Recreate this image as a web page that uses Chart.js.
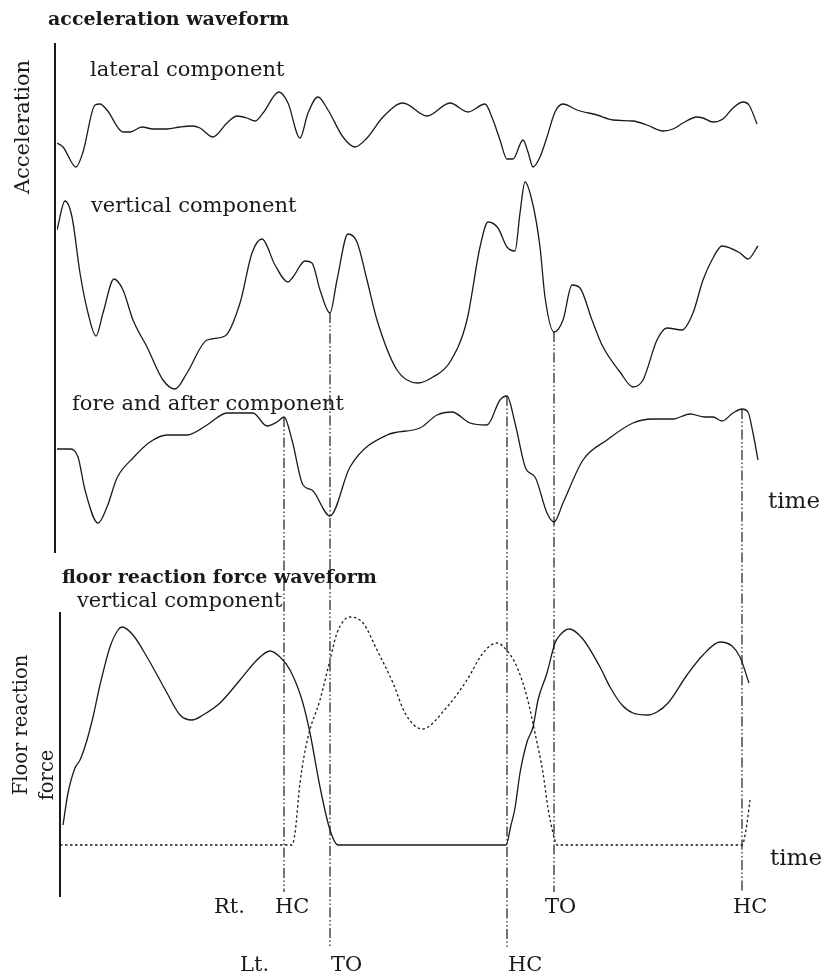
<!DOCTYPE html>
<html>
<head>
<meta charset="utf-8">
<title>acceleration / floor reaction force waveform</title>
<script src="https://cdn.jsdelivr.net/npm/chart.js@4"></script>
<style>
  html, body { margin: 0; padding: 0; background: #fff; }
  #wrap { position: relative; width: 825px; height: 977px; }
</style>
</head>
<body>
<div id="wrap"><canvas id="gait"></canvas></div>
<script>
// waveforms: [time, amplitude] (arbitrary units, up = positive)
const lateralAcc = [[0,-15],[6,-19],[19,-39],[26,-24],[38,23],[43,24],[50,18],[66,-4],[73,-4],[85,1],[96,-1],[110,-1],[123,1],[135,2],[143,0],[156,-9],[170,5],[180,12],[190,10],[198,7],[206,15],[222,36],[231,25],[243,-10],[251,15],[261,31],[271,18],[286,-9],[298,-19],[310,-10],[326,11],[346,25],[370,12],[393,25],[411,16],[428,24],[436,8],[443,-12],[450,-31],[456,-31],[466,-12],[471,-24],[476,-39],[483,-29],[490,-9],[498,16],[506,24],[520,18],[540,13],[556,8],[576,7],[590,3],[606,-3],[616,-1],[626,5],[640,11],[646,10],[656,6],[666,9],[676,20],[686,26],[692,23],[700,4]];
const verticalAcc = [[0,70],[8,99],[15,83],[23,27],[31,-13],[39,-36],[46,-13],[57,21],[66,10],[76,-20],[90,-47],[106,-80],[118,-89],[130,-73],[150,-40],[168,-36],[183,-3],[195,47],[205,61],[218,35],[231,18],[236,23],[248,39],[255,37],[263,10],[273,-13],[280,20],[291,66],[300,58],[310,20],[320,-20],[340,-70],[361,-83],[376,-77],[393,-62],[410,-20],[423,53],[431,78],[441,72],[450,53],[458,49],[463,87],[468,118],[476,95],[483,53],[488,3],[497,-32],[506,-20],[515,15],[523,12],[535,-20],[545,-45],[563,-72],[576,-87],[586,-80],[600,-40],[610,-28],[625,-30],[636,-13],[646,20],[656,42],[665,54],[683,47],[691,41],[701,54]];
const foreAftAcc = [[0,-14],[13,-14],[21,-22],[28,-55],[41,-88],[50,-72],[60,-43],[76,-23],[93,-7],[110,0],[130,0],[150,10],[170,22],[196,22],[210,9],[220,13],[227,18],[235,-5],[246,-50],[255,-55],[273,-81],[293,-32],[330,0],[363,7],[380,20],[395,23],[413,12],[430,10],[443,35],[450,39],[458,12],[469,-34],[478,-42],[490,-78],[497,-87],[506,-68],[526,-25],[550,-5],[576,12],[596,16],[616,16],[633,21],[648,18],[656,18],[665,14],[676,22],[685,26],[691,23],[696,2],[701,-25]];
const forceRight = [[6,20],[11,52],[18,77],[23,85],[30,105],[36,128],[43,160],[53,198],[61,215],[65,218],[76,210],[90,188],[110,152],[123,130],[135,125],[146,130],[163,142],[183,165],[200,185],[213,194],[223,188],[233,175],[245,145],[253,112],[263,58],[273,15],[281,0],[449,0],[454,20],[458,37],[463,72],[470,103],[476,118],[481,145],[490,172],[498,202],[503,210],[512,216],[525,207],[543,178],[553,158],[565,140],[576,132],[591,130],[600,133],[611,142],[630,170],[646,190],[663,203],[675,199],[683,188],[692,162]];
const forceLeft = [[3,0],[227,0],[235,0],[238,12],[243,62],[251,108],[263,145],[273,185],[280,212],[293,228],[306,222],[320,195],[336,162],[348,132],[365,116],[390,138],[410,165],[426,192],[440,202],[451,193],[460,178],[470,148],[478,112],[486,72],[491,37],[497,8],[500,0],[685,0],[689,15],[693,45]];

// gait events
const eventTimes  = [227, 273, 450, 497, 685];
const eventNames  = ['HC', 'TO', 'HC', 'TO', 'HC'];
const eventFoot   = ['Rt.', 'Lt.', 'Lt.', 'Rt.', 'Rt.'];
const eventMarked = ['fa', 'ver', 'fa', 'ver', 'fa'];  // waveform the marker line drops from

const INK = '#1a1a1a';
const SERIF = '"DejaVu Serif", "Liberation Serif", serif';
const H = 977;                       // chart area height (px), 1 unit = 1 px
// pixel row of each panel's zero level
const ZERO = { lat: 128, ver: 300, fa: 435, frc: 845 };

function pts(a) { return a.map(p => ({ x: p[0], y: p[1] })); }
function yAxis(z) { return { display: false, min: z - H, max: z }; }

const rows = { 'Rt.': { end: 892, text: 908, dx: -9 }, 'Lt.': { end: 948, text: 966, dx: 1 } };
const seriesFor = { fa: ['fa', foreAftAcc], ver: ['ver', verticalAcc] };

const decor = {
  id: 'decor',
  afterDatasetsDraw(chart) {
    const { ctx, scales } = chart;
    const sx = scales.x;
    ctx.save();

    // plain axis lines
    ctx.strokeStyle = INK;
    ctx.lineWidth = 2;
    ctx.beginPath();
    ctx.moveTo(55, 43); ctx.lineTo(55, 553);
    ctx.moveTo(60, 612); ctx.lineTo(60, 897);
    ctx.stroke();

    // dash-dot event markers
    ctx.lineWidth = 1.2;
    ctx.setLineDash([10, 2.5, 1.5, 2.5, 1.5, 2.5]);
    eventTimes.forEach((t, i) => {
      const [axis, data] = seriesFor[eventMarked[i]];
      const v = data.find(p => p[0] === t)[1];
      const x = sx.getPixelForValue(t);
      ctx.beginPath();
      ctx.moveTo(x, scales[axis].getPixelForValue(v));
      ctx.lineTo(x, rows[eventFoot[i]].end);
      ctx.stroke();
    });
    ctx.setLineDash([]);

    // texts
    ctx.fillStyle = INK;
    ctx.textBaseline = 'middle';
    ctx.textAlign = 'left';
    const put = (s, x, y, f) => { ctx.font = f; ctx.fillText(s, x, y); };
    const reg = '21px ' + SERIF, bold = 'bold 19px ' + SERIF, big = '23px ' + SERIF;
    put('acceleration waveform', 48, 20, bold);
    put('lateral component', 90, 71, reg);
    put('vertical component', 91, 207, reg);
    put('fore and after component', 72, 405, reg);
    put('time', 768, 502, big);
    put('floor reaction force waveform', 62, 578, bold);
    put('vertical component', 77, 602, reg);
    put('time', 770, 859, big);
    put('Rt.', 214, rows['Rt.'].text, reg);
    put('Lt.', 240, rows['Lt.'].text, reg);
    eventTimes.forEach((t, i) => {
      const r = rows[eventFoot[i]];
      put(eventNames[i], sx.getPixelForValue(t) + r.dx, r.text, reg);
    });

    // rotated axis titles
    ctx.textAlign = 'center';
    const rot = (s, x, y, f) => {
      ctx.save(); ctx.translate(x, y); ctx.rotate(-Math.PI / 2);
      ctx.font = f; ctx.fillText(s, 0, 0); ctx.restore();
    };
    rot('Acceleration', 24, 127, reg);
    rot('Floor reaction', 22, 725, '19.5px ' + SERIF);
    rot('force', 48, 775, '19.5px ' + SERIF);
    ctx.restore();
  }
};

const line = (data, axis, dash) => ({
  data: pts(data), yAxisID: axis, borderColor: INK, borderWidth: 1.3,
  borderDash: dash || [], pointRadius: 0, fill: false,
  cubicInterpolationMode: 'monotone'
});

new Chart(document.getElementById('gait'), {
  type: 'line',
  data: {
    datasets: [
      line(lateralAcc, 'lat'),
      line(verticalAcc, 'ver'),
      line(foreAftAcc, 'fa'),
      line(forceRight, 'frc'),
      line(forceLeft, 'frc', [2.5, 2.5])
    ]
  },
  options: {
    responsive: true,
    maintainAspectRatio: false,
    animation: false,
    layout: { padding: { left: 57, right: 65, top: 0, bottom: 0 } },
    plugins: { legend: { display: false }, tooltip: { enabled: false }, title: { display: false } },
    scales: {
      x: { type: 'linear', display: false, min: 0, max: 703 },
      lat: yAxis(ZERO.lat),
      ver: yAxis(ZERO.ver),
      fa: yAxis(ZERO.fa),
      frc: yAxis(ZERO.frc)
    }
  },
  plugins: [decor]
});
</script>
</body>
</html>
